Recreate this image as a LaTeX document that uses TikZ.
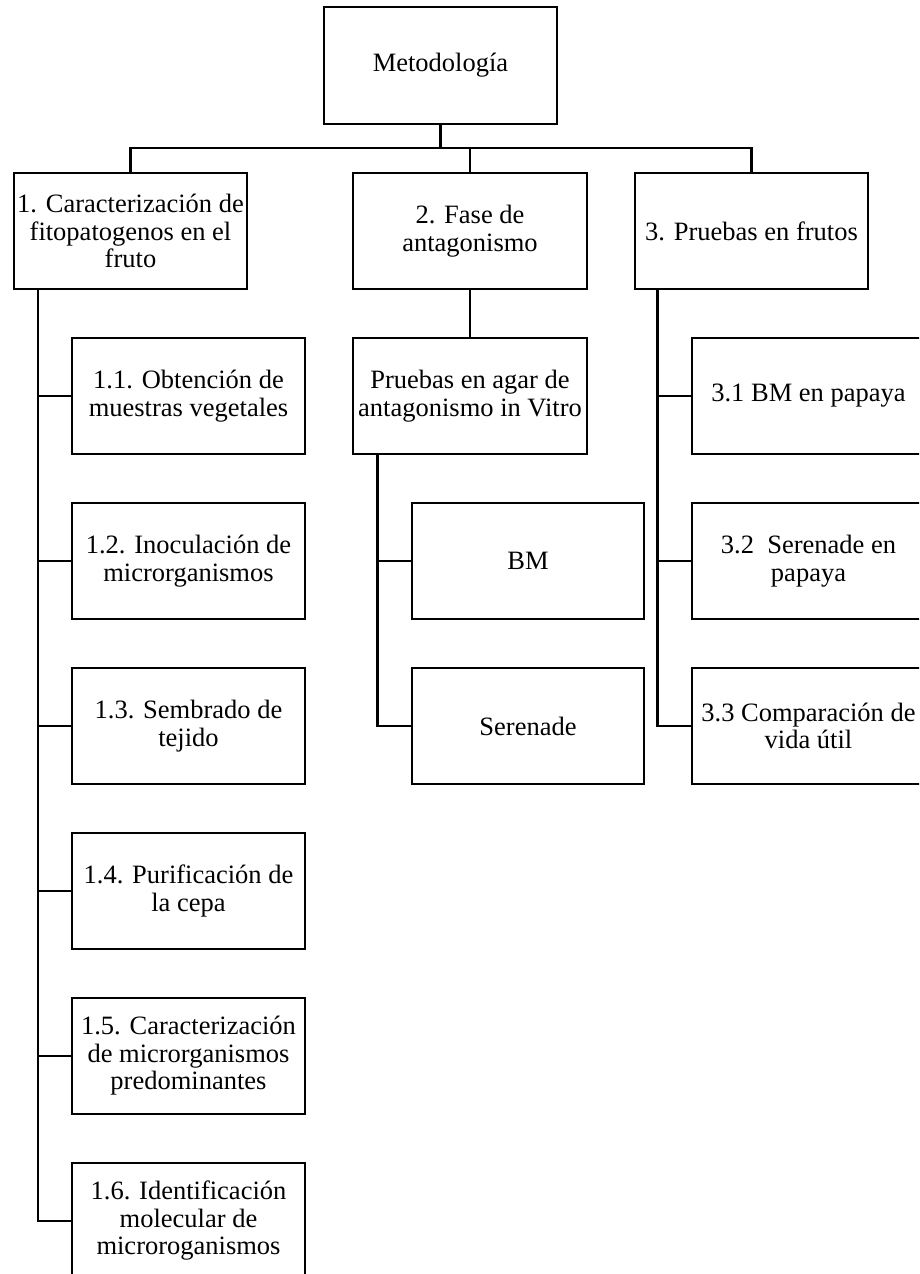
\documentclass[tikz,border=0pt]{standalone}
\usepackage{fontspec}
\setmainfont{Liberation Serif}
\begin{document}
\begin{tikzpicture}[x=1pt,y=-1pt,
  box/.style={draw, line width=2.2pt, minimum width=233pt, minimum height=116pt,
    inner sep=0pt, align=center, font=\fontsize{26.5}{27.5}\selectfont},
  link/.style={line width=2.2pt, line join=miter}]
\useasboundingbox (0,0) rectangle (919,1274);
\clip (0,0) rectangle (919,1274);
% top level
\node[box, minimum height=117pt] (meta) at (440.5,65.5) {Metodología};
\node[box] (b1) at (130.5,231) {1. Caracterización de\\fitopatogenos en el\\fruto};
\node[box, minimum width=234pt] (b2) at (470,231) {2. Fase de\\antagonismo};
\node[box] (b3) at (751.5,231) {3. Pruebas en frutos};
% column 1
\node[box] (c11) at (188.5,396) {1.1. Obtención de\\muestras vegetales};
\node[box] (c12) at (188.5,561) {1.2. Inoculación de\\microrganismos};
\node[box] (c13) at (188.5,726) {1.3. Sembrado de\\tejido};
\node[box] (c14) at (188.5,891) {1.4. Purificación de\\la cepa};
\node[box] (c15) at (188.5,1056) {1.5. Caracterización\\de microrganismos\\predominantes};
\node[box] (c16) at (188.5,1221) {1.6. Identificación\\molecular de\\microroganismos};
% column 2
\node[box, minimum width=234pt] (c2) at (470,396) {Pruebas en agar de\\antagonismo in Vitro};
\node[box, minimum width=232pt] (c21) at (528,561) {BM};
\node[box, minimum width=232pt] (c22) at (528,726) {Serenade};
% column 3
\node[box] (c31) at (808.5,396) {3.1 BM en papaya};
\node[box] (c32) at (808.5,561) {3.2\ \ Serenade en\\papaya};
\node[box] (c33) at (808.5,726) {3.3 Comparación de\\vida útil};
% connectors
\coordinate (bus) at (0,148);
\coordinate (s1) at (38,0);
\coordinate (s2) at (377.5,0);
\coordinate (s3) at (657.5,0);
\draw[link] (meta.south) -- (meta.south |- bus);
\draw[link] (b1.north) |- (bus -| b3.north) -- (b3.north);
\draw[link] (b2.north) -- (b2.north |- bus);
\draw[link] (s1 |- b1.south) |- (c16.west);
\foreach \n in {c11,c12,c13,c14,c15}
  \draw[link] (s1 |- \n.west) -- (\n.west);
\draw[link] (b2.south) -- (c2.north);
\draw[link] (s2 |- c2.south) |- (c22.west);
\draw[link] (s2 |- c21.west) -- (c21.west);
\draw[link] (s3 |- b3.south) |- (c33.west);
\draw[link] (s3 |- c31.west) -- (c31.west);
\draw[link] (s3 |- c32.west) -- (c32.west);
\end{tikzpicture}
\end{document}
